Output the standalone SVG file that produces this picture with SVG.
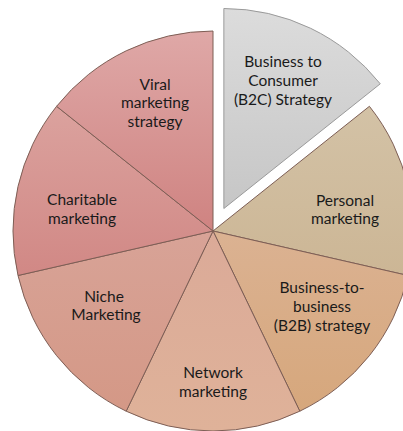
<svg xmlns="http://www.w3.org/2000/svg" width="403" height="431" viewBox="0 0 403 431">
<defs>
<linearGradient id="gViral" x1="0" y1="0" x2="0" y2="1"><stop offset="0" stop-color="#dfa8a7"/><stop offset="1" stop-color="#cf8381"/></linearGradient>
<linearGradient id="gChar" x1="0" y1="0" x2="0" y2="1"><stop offset="0" stop-color="#dba29e"/><stop offset="1" stop-color="#d18885"/></linearGradient>
<linearGradient id="gNiche" x1="0" y1="0" x2="0" y2="1"><stop offset="0" stop-color="#d8a397"/><stop offset="1" stop-color="#d49886"/></linearGradient>
<linearGradient id="gNet" x1="0" y1="0" x2="0" y2="1"><stop offset="0" stop-color="#dbaa98"/><stop offset="1" stop-color="#dfb299"/></linearGradient>
<linearGradient id="gB2B" x1="0" y1="0" x2="0" y2="1"><stop offset="0" stop-color="#dbb292"/><stop offset="1" stop-color="#d6a77c"/></linearGradient>
<linearGradient id="gPers" x1="0" y1="0" x2="0" y2="1"><stop offset="0" stop-color="#d3c2a6"/><stop offset="1" stop-color="#ccb695"/></linearGradient>
<linearGradient id="gB2C" x1="0" y1="0" x2="0" y2="1"><stop offset="0" stop-color="#dcdcdc"/><stop offset="1" stop-color="#c6c6c6"/></linearGradient>
</defs>
<style>
.slice{stroke:#7d5e55;stroke-width:1;stroke-linejoin:round}
.b2c{stroke:#9a9a9a}
text{font-family:Lato,"Liberation Sans",sans-serif;font-size:15.5px;fill:#1a1a1a;text-anchor:middle}
</style>
<rect width="403" height="431" fill="#ffffff"/>
<g id="b2c">
<path class="slice b2c" fill="url(#gB2C)" d="M223.85,208.5 L223.85,8.5 A200,200 0 0 1 380.25,83.8 Z"/>
<text x="283" y="67">Business to</text>
<text x="283" y="86">Consumer</text>
<text x="283" y="105">(B2C) Strategy</text>
</g>
<g id="personal">
<path class="slice" fill="url(#gPers)" d="M213,231 L369.4,106.3 A200,200 0 0 1 408,275.5 Z"/>
<text x="345" y="206">Personal</text>
<text x="345" y="224">marketing</text>
</g>
<g id="b2b">
<path class="slice" fill="url(#gB2B)" d="M213,231 L408,275.5 A200,200 0 0 1 299.8,411.2 Z"/>
<text x="322" y="293">Business-to-</text>
<text x="322" y="312">business</text>
<text x="322" y="331">(B2B) strategy</text>
</g>
<g id="network">
<path class="slice" fill="url(#gNet)" d="M213,231 L299.8,411.2 A200,200 0 0 1 126.2,411.2 Z"/>
<text x="213" y="378">Network</text>
<text x="213" y="397">marketing</text>
</g>
<g id="niche">
<path class="slice" fill="url(#gNiche)" d="M213,231 L126.2,411.2 A200,200 0 0 1 18,275.5 Z"/>
<text x="104" y="302">Niche</text>
<text x="106" y="320">Marketing</text>
</g>
<g id="charitable">
<path class="slice" fill="url(#gChar)" d="M213,231 L18,275.5 A200,200 0 0 1 56.6,106.3 Z"/>
<text x="82" y="205">Charitable</text>
<text x="82" y="224">marketing</text>
</g>
<g id="viral">
<path class="slice" fill="url(#gViral)" d="M213,231 L56.6,106.3 A200,200 0 0 1 213,31 Z"/>
<text x="155" y="90">Viral</text>
<text x="155" y="108">marketing</text>
<text x="155" y="127">strategy</text>
</g>
<g id="connectors"></g>
</svg>
